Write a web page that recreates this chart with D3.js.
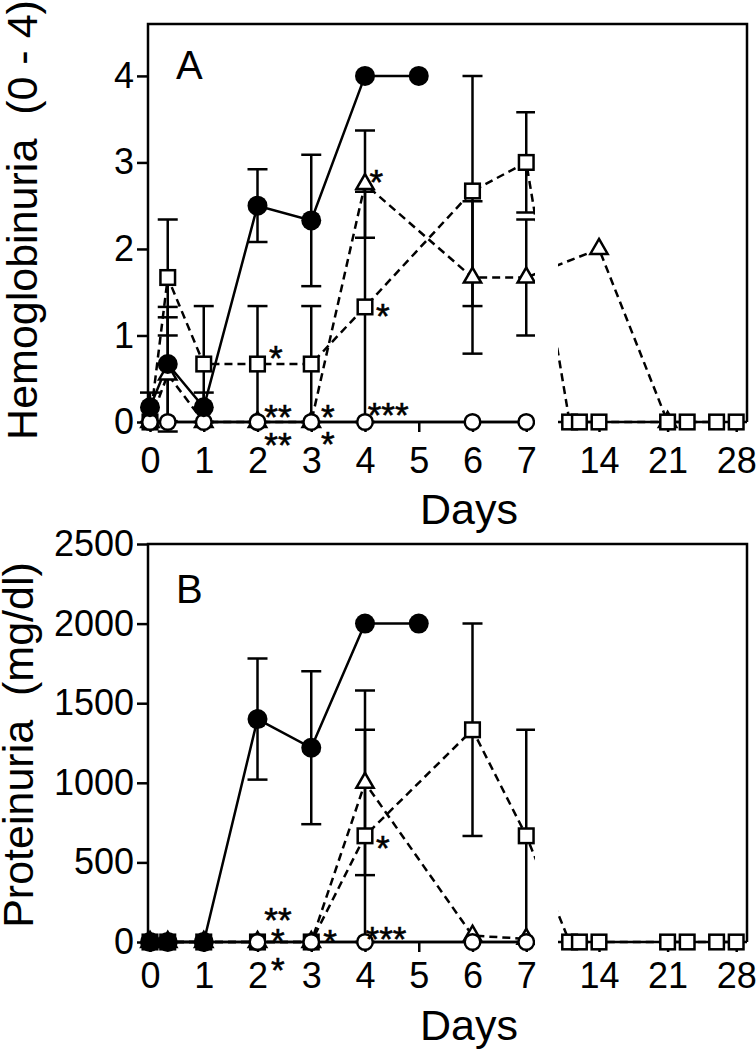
<!DOCTYPE html>
<html><head><meta charset="utf-8">
<script src="https://cdn.jsdelivr.net/npm/d3@7"></script>
<style>
body{margin:0;background:#fff}
svg{display:block;font-family:"Liberation Sans",Arial,sans-serif}
</style>
</head><body>
<svg id="c" width="756" height="1050"></svg>
<script>
// ---------------- data ----------------
const ticksDaysLeft = [0,1,2,3,4,5,6,7];
const ticksDaysRight = [14,21,28];
const hemoTicks = [0,1,2,3,4];
const protTicks = [0,500,1000,1500,2000,2500];

// Panel A: Hemoglobinuria (0 - 4)
const hemoFilledDays = [0,0.33,1,2,3,4,5];
const hemoFilledVals = [0.17,0.67,0.17,2.5,2.33,4,4];
const hemoFilledErr  = [0.17,0.66,0.17,0.42,0.76,0,0];

const hemoOpenDays = [0,0.33,1,2,3,4,6,7];
const hemoOpenVals = [0,0,0,0,0,0,0,0];
const hemoOpenErr  = [0,0,0,0,0,0,0,0];

const hemoSquareDays = [0,0.33,1,2,3,4,6,7,11,12,14,21,23,26,28];
const hemoSquareVals = [0,1.67,0.67,0.67,0.67,1.33,2.67,3.0,0,0,0,0,0,0,0];
const hemoSquareErr  = [0,0.67,0.67,0.67,0.67,1.33,1.33,0.58,0,0,0,0,0,0,0];

const hemoTriDays = [0,0.33,1,2,3,4,6,7,14,21];
const hemoTriVals = [0,0.55,0,0,0,2.75,1.67,1.67,2.0,0];
const hemoTriErr  = [0,0.66,0,0,0,0.62,0.88,0.67,0,0];

const hemoStarText = ["*","**","**","*","*","***","*","*"];
const hemoStarDays = [2.34,2.38,2.38,3.31,3.31,4.43,4.21,4.33];
const hemoStarVals = [0.83,0.15,-0.18,0.15,-0.17,0.17,2.86,1.32];

// Panel B: Proteinuria (mg/dl)
const protFilledDays = [0,0.33,1,2,3,4,5];
const protFilledVals = [0,0,0,1400,1220,2000,2000];
const protFilledErr  = [0,0,0,380,480,0,0];

const protOpenDays = [0,0.33,1,2,3,4,6,7];
const protOpenVals = [0,0,0,0,0,0,0,0];
const protOpenErr  = [0,0,0,0,0,0,0,0];

const protSquareDays = [0,0.33,1,2,3,4,6,7,11,12,14,21,23,26,28];
const protSquareVals = [0,0,0,0,0,667,1333,667,0,0,0,0,0,0,0];
const protSquareErr  = [0,0,0,0,0,667,667,667,0,0,0,0,0,0,0];

const protTriDays = [0,0.33,1,2,3,4,6,7];
const protTriVals = [0,0,0,0,0,1000,40,20];
const protTriErr  = [0,0,0,0,0,580,0,0];

const protStarText = ["**","*","*","*","***","*"];
const protStarDays = [2.38,2.38,2.38,3.35,4.39,4.33];
const protStarVals = [188,57,-126,50,69,641];

// ---------------- layout ----------------
const svg = d3.select("#c");
const FRAME_L = 148, FRAME_R = 747;
const GAP_L = 535, GAP_R = 558;
const xLeft  = d3.scaleLinear().domain([0,7]).range([150, 526.25]);
const xRight = d3.scaleLinear().domain([14,28]).range([599, 736.2]);
const xPos = d => d <= 7 ? xLeft(d) : xRight(d);

const mk = (days, vals, errs) => days.map((d,i)=>({d, v:vals[i], e:errs[i]}));

const panels = [
  {
    id:"A", top:24, bottom:422,
    y: d3.scaleLinear().domain([0,4.6]).range([422,24]),
    yTicks: hemoTicks, tickPad: 15, daysBase: 524,
    title: "Hemoglobinuria  (0 - 4)", titleX: 37, titleY: 220,
    letterY: 79,
    series: [
      {kind:"tri",    dashed:true,  pts: mk(hemoTriDays, hemoTriVals, hemoTriErr)},
      {kind:"square", dashed:true,  pts: mk(hemoSquareDays, hemoSquareVals, hemoSquareErr)},
      {kind:"open",   dashed:false, pts: mk(hemoOpenDays, hemoOpenVals, hemoOpenErr)},
      {kind:"filled", dashed:false, pts: mk(hemoFilledDays, hemoFilledVals, hemoFilledErr)}
    ],
    stars: hemoStarText.map((t,i)=>({t, d:hemoStarDays[i], v:hemoStarVals[i]}))
  },
  {
    id:"B", top:544, bottom:942,
    y: d3.scaleLinear().domain([0,2500]).range([942,544]),
    yTicks: protTicks, tickPad: 10, daysBase: 1040,
    title: "Proteinuria  (mg/dl)", titleX: 33, titleY: 745,
    letterY: 603,
    series: [
      {kind:"tri",    dashed:true,  pts: mk(protTriDays, protTriVals, protTriErr)},
      {kind:"square", dashed:true,  pts: mk(protSquareDays, protSquareVals, protSquareErr)},
      {kind:"open",   dashed:false, pts: mk(protOpenDays, protOpenVals, protOpenErr)},
      {kind:"filled", dashed:false, pts: mk(protFilledDays, protFilledVals, protFilledErr)}
    ],
    stars: protStarText.map((t,i)=>({t, d:protStarDays[i], v:protStarVals[i]}))
  }
];

const SW = 2.5;
const defs = svg.append("defs");

panels.forEach(p => {
  const y = p.y;
  const g = svg.append("g");

  // clip that removes the axis-break gap
  const cp = defs.append("clipPath").attr("id","clip"+p.id);
  cp.append("rect").attr("x",0).attr("y",p.top-20).attr("width",GAP_L).attr("height",p.bottom-p.top+45);
  cp.append("rect").attr("x",GAP_R).attr("y",p.top-20).attr("width",756-GAP_R).attr("height",p.bottom-p.top+45);

  // frame (top, left, right)
  g.append("path")
    .attr("d", `M${FRAME_L},${p.bottom}V${p.top}H${FRAME_R}V${p.bottom}`)
    .attr("fill","none").attr("stroke","#000").attr("stroke-width",SW);

  // x axis baseline in two segments
  g.append("line").attr("x1",FRAME_L).attr("x2",GAP_L).attr("y1",p.bottom).attr("y2",p.bottom)
    .attr("stroke","#000").attr("stroke-width",SW);
  g.append("line").attr("x1",GAP_R).attr("x2",FRAME_R).attr("y1",p.bottom).attr("y2",p.bottom)
    .attr("stroke","#000").attr("stroke-width",SW);

  // x axes
  [[xLeft, ticksDaysLeft],[xRight, ticksDaysRight]].forEach(([sc, tv]) => {
    const ax = g.append("g").attr("transform",`translate(0,${p.bottom})`)
      .call(d3.axisBottom(sc).tickValues(tv).tickSize(10).tickSizeOuter(0).tickPadding(p.tickPad).tickFormat(d3.format("d")));
    ax.select(".domain").remove();
    ax.selectAll("line").attr("stroke-width",SW);
    ax.selectAll("text").attr("font-size",36).attr("font-family","Liberation Sans, Arial, sans-serif").attr("fill","#000");
  });

  // y axis
  const ay = g.append("g").attr("transform",`translate(${FRAME_L},0)`)
    .call(d3.axisLeft(y).tickValues(p.yTicks).tickSize(11).tickSizeOuter(0).tickPadding(3).tickFormat(d3.format("d")));
  ay.select(".domain").remove();
  ay.selectAll("line").attr("stroke-width",SW);
  ay.selectAll("text").attr("font-size",36).attr("font-family","Liberation Sans, Arial, sans-serif").attr("fill","#000");

  // titles
  g.append("text").attr("x",469).attr("y",p.daysBase).attr("text-anchor","middle")
    .attr("font-size",43).text("Days");
  g.append("text").attr("transform",`translate(${p.titleX},${p.titleY}) rotate(-90)`)
    .attr("text-anchor","middle").attr("font-size",43).style("white-space","pre")
    .text(p.title);
  g.append("text").attr("x",176).attr("y",p.letterY).attr("font-size",40).text(p.id);

  // data
  const dg = g.append("g").attr("clip-path",`url(#clip${p.id})`);
  const line = d3.line().x(d=>xPos(d.d)).y(d=>y(d.v));
  p.series.forEach(s => {
    dg.append("path").attr("d", line(s.pts)).attr("fill","none")
      .attr("stroke","#000").attr("stroke-width",SW)
      .attr("stroke-dasharray", s.dashed ? "8,5" : null);
  });
  // error bars
  p.series.forEach(s => {
    s.pts.filter(d=>d.e>0).forEach(d => {
      const x = xPos(d.d), y1 = y(d.v+d.e), y2 = y(d.v-d.e);
      dg.append("line").attr("x1",x).attr("x2",x).attr("y1",y1).attr("y2",y2)
        .attr("stroke","#000").attr("stroke-width",SW);
      [y1,y2].forEach(yy => dg.append("line").attr("x1",x-10).attr("x2",x+10).attr("y1",yy).attr("y2",yy)
        .attr("stroke","#000").attr("stroke-width",SW));
    });
  });
  // symbols
  p.series.forEach(s => {
    const sg = dg.append("g");
    s.pts.forEach(d => {
      const x = xPos(d.d), yy = y(d.v);
      if (s.kind === "filled") {
        sg.append("circle").attr("cx",x).attr("cy",yy).attr("r",10).attr("fill","#000");
      } else if (s.kind === "open") {
        sg.append("circle").attr("cx",x).attr("cy",yy).attr("r",7.8).attr("fill","#fff")
          .attr("stroke","#000").attr("stroke-width",SW);
      } else if (s.kind === "square") {
        sg.append("rect").attr("x",x-7.3).attr("y",yy-7.3).attr("width",14.6).attr("height",14.6)
          .attr("fill","#fff").attr("stroke","#000").attr("stroke-width",SW);
      } else {
        sg.append("path").attr("transform",`translate(${x},${yy})`)
          .attr("d", d3.symbol(d3.symbolTriangle, 130)())
          .attr("fill","#fff").attr("stroke","#000").attr("stroke-width",SW);
      }
    });
  });

  // significance stars
  p.stars.forEach(st => {
    g.append("text").attr("x", xPos(st.d)).attr("y", y(st.v) + 0.565*35)
      .attr("text-anchor","middle").attr("font-size",35)
      .attr("stroke","#000").attr("stroke-width",0.6).text(st.t);
  });
});
</script>
</body></html>
